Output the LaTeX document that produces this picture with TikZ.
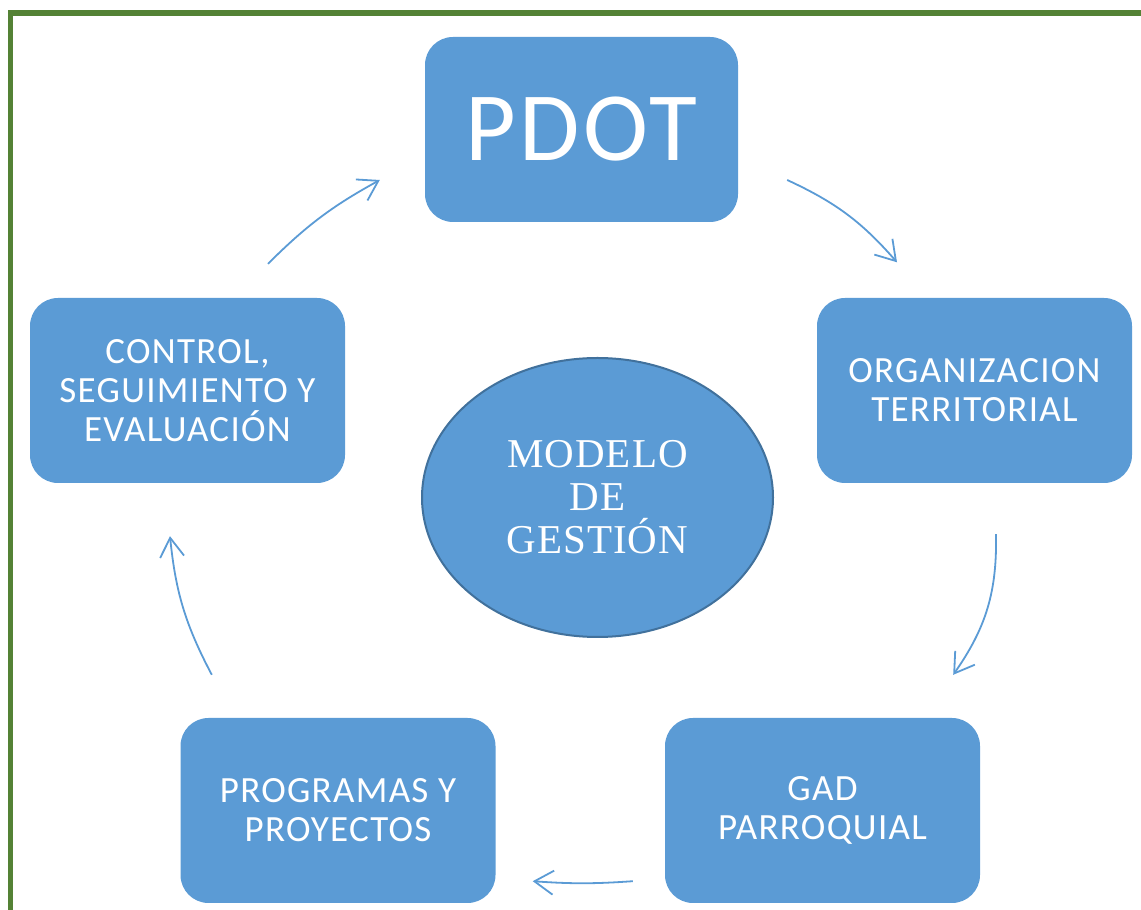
\documentclass[tikz,border=0pt]{standalone}
\usepackage{fontspec}
\usepackage{xcolor}
\usepackage{tikz}
\usetikzlibrary{arrows.meta,positioning,calc,shapes.geometric}
\newfontfamily\calibri[LetterSpace=3.5]{Carlito}
\newfontfamily\romana[LetterSpace=2.5]{Liberation Serif}
\definecolor{azul}{RGB}{91,155,213}
\definecolor{azuloscuro}{RGB}{65,113,156}
\definecolor{verde}{RGB}{84,130,53}
\tikzset{
  bloque/.style={fill=azul,rounded corners=28pt,minimum width=315pt,minimum height=185pt,
    inner sep=0pt,align=center,text=white,font={\calibri\fontsize{37}{39}\selectfont}},
  modelo/.style={ellipse,draw=azuloscuro,line width=2pt,fill=azul,minimum width=351pt,
    minimum height=279pt,inner sep=0pt,align=center,text=white,font={\romana\fontsize{41}{43}\selectfont}},
  flecha/.style={draw=azul,line width=1.8pt,-{Straight Barb[length=19pt,width=24pt]}}
}

\begin{document}
\begin{tikzpicture}[x=1pt,y=1pt]
\useasboundingbox (0,0) rectangle (1141,910);
% marco
\draw[verde,line width=5.5pt] (10.5,0) -- (10.5,897.2) -- (1141,897.2);

\node[bloque,font={\calibri\fontsize{98}{100}\selectfont},minimum width=313pt] (pdot) at (581.5,780.5) {PDOT};
\node[bloque] (organizacion) at (974.5,519.5) {ORGANIZACION\\TERRITORIAL};
\node[bloque] (gad) at (822.5,99.5) {GAD\\PARROQUIAL};
\node[bloque] (programas) at (338,99.5) {PROGRAMAS Y\\PROYECTOS};
\node[bloque] (control) at (187.5,519.5) {CONTROL,\\SEGUIMIENTO Y\\EVALUACIÓN};
\node[modelo] (gestion) at (597.5,412.5) {MODELO\\DE\\GESTIÓN};

% ciclo
\draw[flecha] ([shift={(49,-50.5)}]pdot.east) to[bend left=12] ([shift={(-77.5,35.5)}]organizacion.north);
\draw[flecha] ([shift={(21.5,-51)}]organizacion.south) to[bend left=18] ([shift={(-27,43)}]gad.north east);
\draw[flecha] ([shift={(-32,22)}]gad.south west) to[bend left=4] ([shift={(37,22)}]programas.south east);
\draw[flecha] ([shift={(31.5,43)}]programas.north west) to[bend left=11] ([shift={(-17.5,-53)}]control.south);
\draw[flecha] ([shift={(80.5,34)}]control.north) to[bend left=8] ([shift={(-45,-50.5)}]pdot.west);
\end{tikzpicture}
\end{document}
